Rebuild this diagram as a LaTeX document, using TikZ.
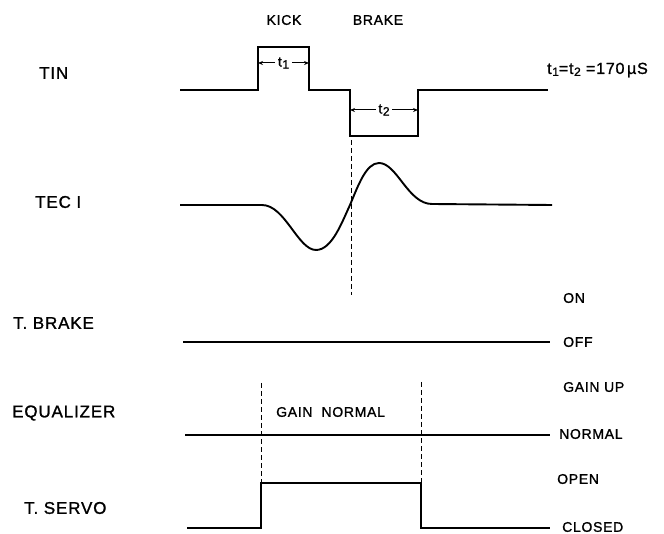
\documentclass[tikz,border=0pt]{standalone}
\usepackage{fontspec}
\setmainfont[LetterSpace=5,FakeBold=1.2]{Liberation Sans}
\usetikzlibrary{arrows.meta}

\newcommand{\tsub}[1]{t\kern0.6pt\raisebox{-2pt}{\fontsize{12}{13}\selectfont #1}}

\begin{document}
\begin{tikzpicture}[x=1pt,y=-1pt,
  every node/.style={font=\fontsize{14}{16}\selectfont, inner sep=0pt},
  big/.style={font=\fontsize{17}{20}\selectfont},
  sig/.style={line width=1.9pt, line join=miter},
  guide/.style={line width=0.9pt, dash pattern=on 5pt off 3pt},
  dim/.style={line width=1pt, -{Stealth[length=5pt,width=4pt]}}]
\useasboundingbox (0,0) rectangle (664,534);
% signal names
\node[big, anchor=west] (tin) at (39,73) {TIN};
\node[big, anchor=west] (tec) at (35,202) {TEC I};
\node[big, anchor=west] (tbrake) at (13,323) {T. BRAKE};
\node[big, anchor=west] (eq) at (12,413) {EQUALIZER};
\node[big, anchor=west] (tservo) at (24,508) {T. SERVO};
% states
\node[anchor=west] (on) at (563,298) {ON};
\node[anchor=west] (off) at (563,342) {OFF};
\node[anchor=west] (gainup) at (563,387) {GAIN UP};
\node[anchor=west] (normal) at (559,434) {NORMAL};
\node[anchor=west] (open) at (557,479) {OPEN};
\node[anchor=west] (closed) at (562,527) {CLOSED};
\node (kick) at (284,20) {KICK};
\node (brake) at (378,20) {BRAKE};
\node[anchor=west] (gainnorm) at (276,412) {GAIN\hspace{9pt}NORMAL};
\node[anchor=west, font=\fontsize{16}{18}\selectfont] (times) at (547,70) {\tsub{1}=\tsub{2} =170\,µS};
% TIN
\draw[sig] (180,90) -- (258,90) -- (258,47) -- (309,47) -- (309,90) -- (350,90)
  -- (350,136) -- (418,136) -- (418,90) -- (548,90);
\coordinate (k1) at (258,63);
\coordinate (k2) at (309,63);
\coordinate (b1) at (350,110);
\coordinate (b2) at (418,110);
\node[inner sep=2.5pt] (t1) at (283.5,63) {\tsub{1}};
\node[inner sep=2.5pt] (t2) at (384,110) {\tsub{2}};
\draw[dim] (t1.west) -- (k1);
\draw[dim] (t1.east) -- (k2);
\draw[dim] (t2.west) -- (b1);
\draw[dim] (t2.east) -- (b2);
% TEC I
\draw[sig] (180,205) -- (262,205) .. controls (285,205) and (298,250) .. (316,250)
  .. controls (332,250) and (342,222) .. (350,205)
  .. controls (358,186) and (366,163) .. (379,163)
  .. controls (397,163) and (408,204) .. (432,204) -- (552,205);
% T. BRAKE
\draw[sig] (183,342) -- (550,342);
% EQUALIZER
\draw[sig] (185,435) -- (550,435);
% T. SERVO
\draw[sig] (187,528) -- (261,528) -- (261,483) -- (421,483) -- (421,528) -- (550,528);
% markers
\coordinate (m0) at (351,140);
\coordinate (m1) at (351,295);
\coordinate (l0) at (261,383);
\coordinate (l1) at (261,483);
\coordinate (r0) at (421,382);
\coordinate (r1) at (421,483);
\draw[guide] (m0) -- (m1);
\draw[guide] (l0) -- (l1);
\draw[guide] (r0) -- (r1);
\end{tikzpicture}
\end{document}
